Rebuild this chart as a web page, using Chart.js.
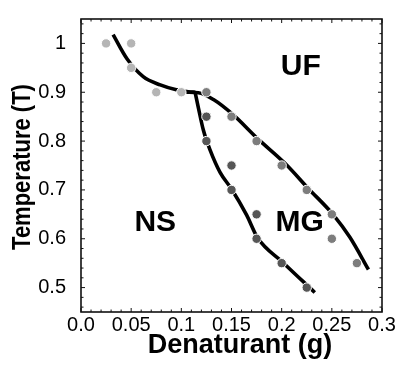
<!DOCTYPE html>
<html>
<head>
<meta charset="utf-8">
<script src="https://cdn.jsdelivr.net/npm/chart.js@4.4.1/dist/chart.umd.min.js"></script>
<style>
html, body { margin: 0; padding: 0; background: #fff; }
</style>
</head>
<body>
<canvas id="phaseChart" width="396" height="365"></canvas>
<script>
// axis ticks
const xTicks = [0, 0.05, 0.1, 0.15, 0.2, 0.25, 0.3];
const xTickLabels = ["0.0", "0.05", "0.1", "0.15", "0.2", "0.25", "0.3"];
const yTicks = [0.5, 0.6, 0.7, 0.8, 0.9, 1.0];
const yTickLabels = ["0.5", "0.6", "0.7", "0.8", "0.9", "1"];

// measured transition points (denaturant, temperature)
const nsUfPoints = [[0.025, 1.0], [0.05, 1.0], [0.05, 0.95], [0.075, 0.9], [0.1, 0.9]];
const ufMgPoints = [[0.125, 0.9], [0.15, 0.85], [0.175, 0.8], [0.2, 0.75], [0.225, 0.7], [0.25, 0.65], [0.25, 0.6], [0.275, 0.55]];
const nsMgPoints = [[0.125, 0.85], [0.125, 0.8], [0.15, 0.75], [0.15, 0.7], [0.175, 0.65], [0.175, 0.6], [0.2, 0.55], [0.225, 0.5]];

// fitted phase boundaries
const nsUfCurve = [[0.032, 1.018], [0.046, 0.968], [0.062, 0.932], [0.079, 0.915], [0.095, 0.905], [0.107, 0.901], [0.114, 0.9]];
const ufMgCurve = [[0.105, 0.9], [0.117, 0.899], [0.132, 0.885], [0.151, 0.855], [0.176, 0.805], [0.203, 0.755], [0.227, 0.702], [0.2515, 0.649], [0.268, 0.603], [0.2865, 0.537]];
const nsMgCurve = [[0.1137, 0.9], [0.117, 0.868], [0.122, 0.822], [0.1286, 0.782], [0.1386, 0.736], [0.150, 0.702], [0.165, 0.649], [0.176, 0.602], [0.201, 0.552], [0.233, 0.49]];

// phase region names
const regionNames = ["UF", "NS", "MG"];
const regionX = [0.219, 0.074, 0.218];
const regionY = [0.952, 0.632, 0.632];

const FONT = "'Liberation Sans', Arial, sans-serif";
const toXY = arr => arr.map(p => ({ x: p[0], y: p[1] }));

function pointSet(data, color) {
    return {
        data: toXY(data),
        showLine: false,
        pointRadius: 4.7,
        pointBackgroundColor: color,
        pointBorderColor: "#ffffff",
        pointBorderWidth: 1,
        order: 0
    };
}

function curveSet(data) {
    return {
        data: toXY(data),
        showLine: true,
        pointRadius: 0,
        borderColor: "#000000",
        borderWidth: 3.6,
        cubicInterpolationMode: "monotone",
        order: 1
    };
}

// frame with inward ticks on all sides, region names, axis titles
const framePlugin = {
    id: "frame",
    afterDraw(chart) {
        const ctx = chart.ctx;
        const a = chart.chartArea;
        const xs = chart.scales.x;
        const ys = chart.scales.y;
        ctx.save();
        ctx.strokeStyle = "#111";
        ctx.lineWidth = 1.6;
        ctx.strokeRect(a.left, a.top, a.right - a.left, a.bottom - a.top);

        ctx.lineWidth = 1;
        ctx.beginPath();
        for (let i = 0; i <= 30; i++) {
            const px = xs.getPixelForValue(i * 0.01);
            const len = i % 5 === 0 ? 4 : 2.5;
            ctx.moveTo(px, a.bottom); ctx.lineTo(px, a.bottom - len);
            ctx.moveTo(px, a.top); ctx.lineTo(px, a.top + len);
        }
        for (let i = 0; i <= 30; i++) {
            const v = 0.46 + i * 0.02;
            if (v > 1.05) break;
            const py = ys.getPixelForValue(v);
            const len = Math.round(v * 100) % 10 === 0 ? 4 : 2.5;
            ctx.moveTo(a.left, py); ctx.lineTo(a.left + len, py);
            ctx.moveTo(a.right, py); ctx.lineTo(a.right - len, py);
        }
        ctx.stroke();

        ctx.fillStyle = "#000";
        ctx.textAlign = "center";
        ctx.textBaseline = "middle";
        ctx.font = "bold 30px " + FONT;
        regionNames.forEach((name, i) => {
            ctx.fillText(name, xs.getPixelForValue(regionX[i]), ys.getPixelForValue(regionY[i]));
        });

        ctx.font = "bold 27px " + FONT;
        ctx.textBaseline = "alphabetic";
        ctx.fillText("Denaturant (g)", 240, 353);

        ctx.translate(30, 167);
        ctx.rotate(-Math.PI / 2);
        ctx.scale(1, 1.2);
        ctx.font = "bold 22px " + FONT;
        ctx.fillText("Temperature (T)", 0, 0);
        ctx.restore();
    }
};

new Chart(document.getElementById("phaseChart"), {
    type: "scatter",
    data: {
        datasets: [
            pointSet(nsUfPoints, "#b5b5b5"),
            pointSet(ufMgPoints, "#7d7d7d"),
            pointSet(nsMgPoints, "#565656"),
            curveSet(nsUfCurve),
            curveSet(ufMgCurve),
            curveSet(nsMgCurve)
        ]
    },
    options: {
        responsive: false,
        animation: false,
        layout: { padding: { top: 12, right: 14, left: 0, bottom: 0 } },
        plugins: { legend: { display: false }, tooltip: { enabled: false } },
        scales: {
            x: {
                type: "linear",
                min: 0,
                max: 0.3,
                grid: { display: false },
                border: { display: false },
                afterBuildTicks: s => { s.ticks = xTicks.map(v => ({ value: v })); },
                afterFit: s => { s.height = 53; },
                ticks: {
                    padding: -7,
                    color: "#000",
                    font: { size: 20, family: FONT },
                    maxRotation: 0,
                    autoSkip: false,
                    callback: (v, i) => xTickLabels[i]
                }
            },
            y: {
                type: "linear",
                min: 0.45,
                max: 1.05,
                grid: { display: false },
                border: { display: false },
                afterBuildTicks: s => { s.ticks = yTicks.map(v => ({ value: v })); },
                afterFit: s => { s.width = 81; },
                ticks: {
                    padding: 7,
                    color: "#000",
                    font: { size: 20, family: FONT },
                    autoSkip: false,
                    callback: (v, i) => yTickLabels[i]
                }
            }
        }
    },
    plugins: [framePlugin]
});
</script>
</body>
</html>
